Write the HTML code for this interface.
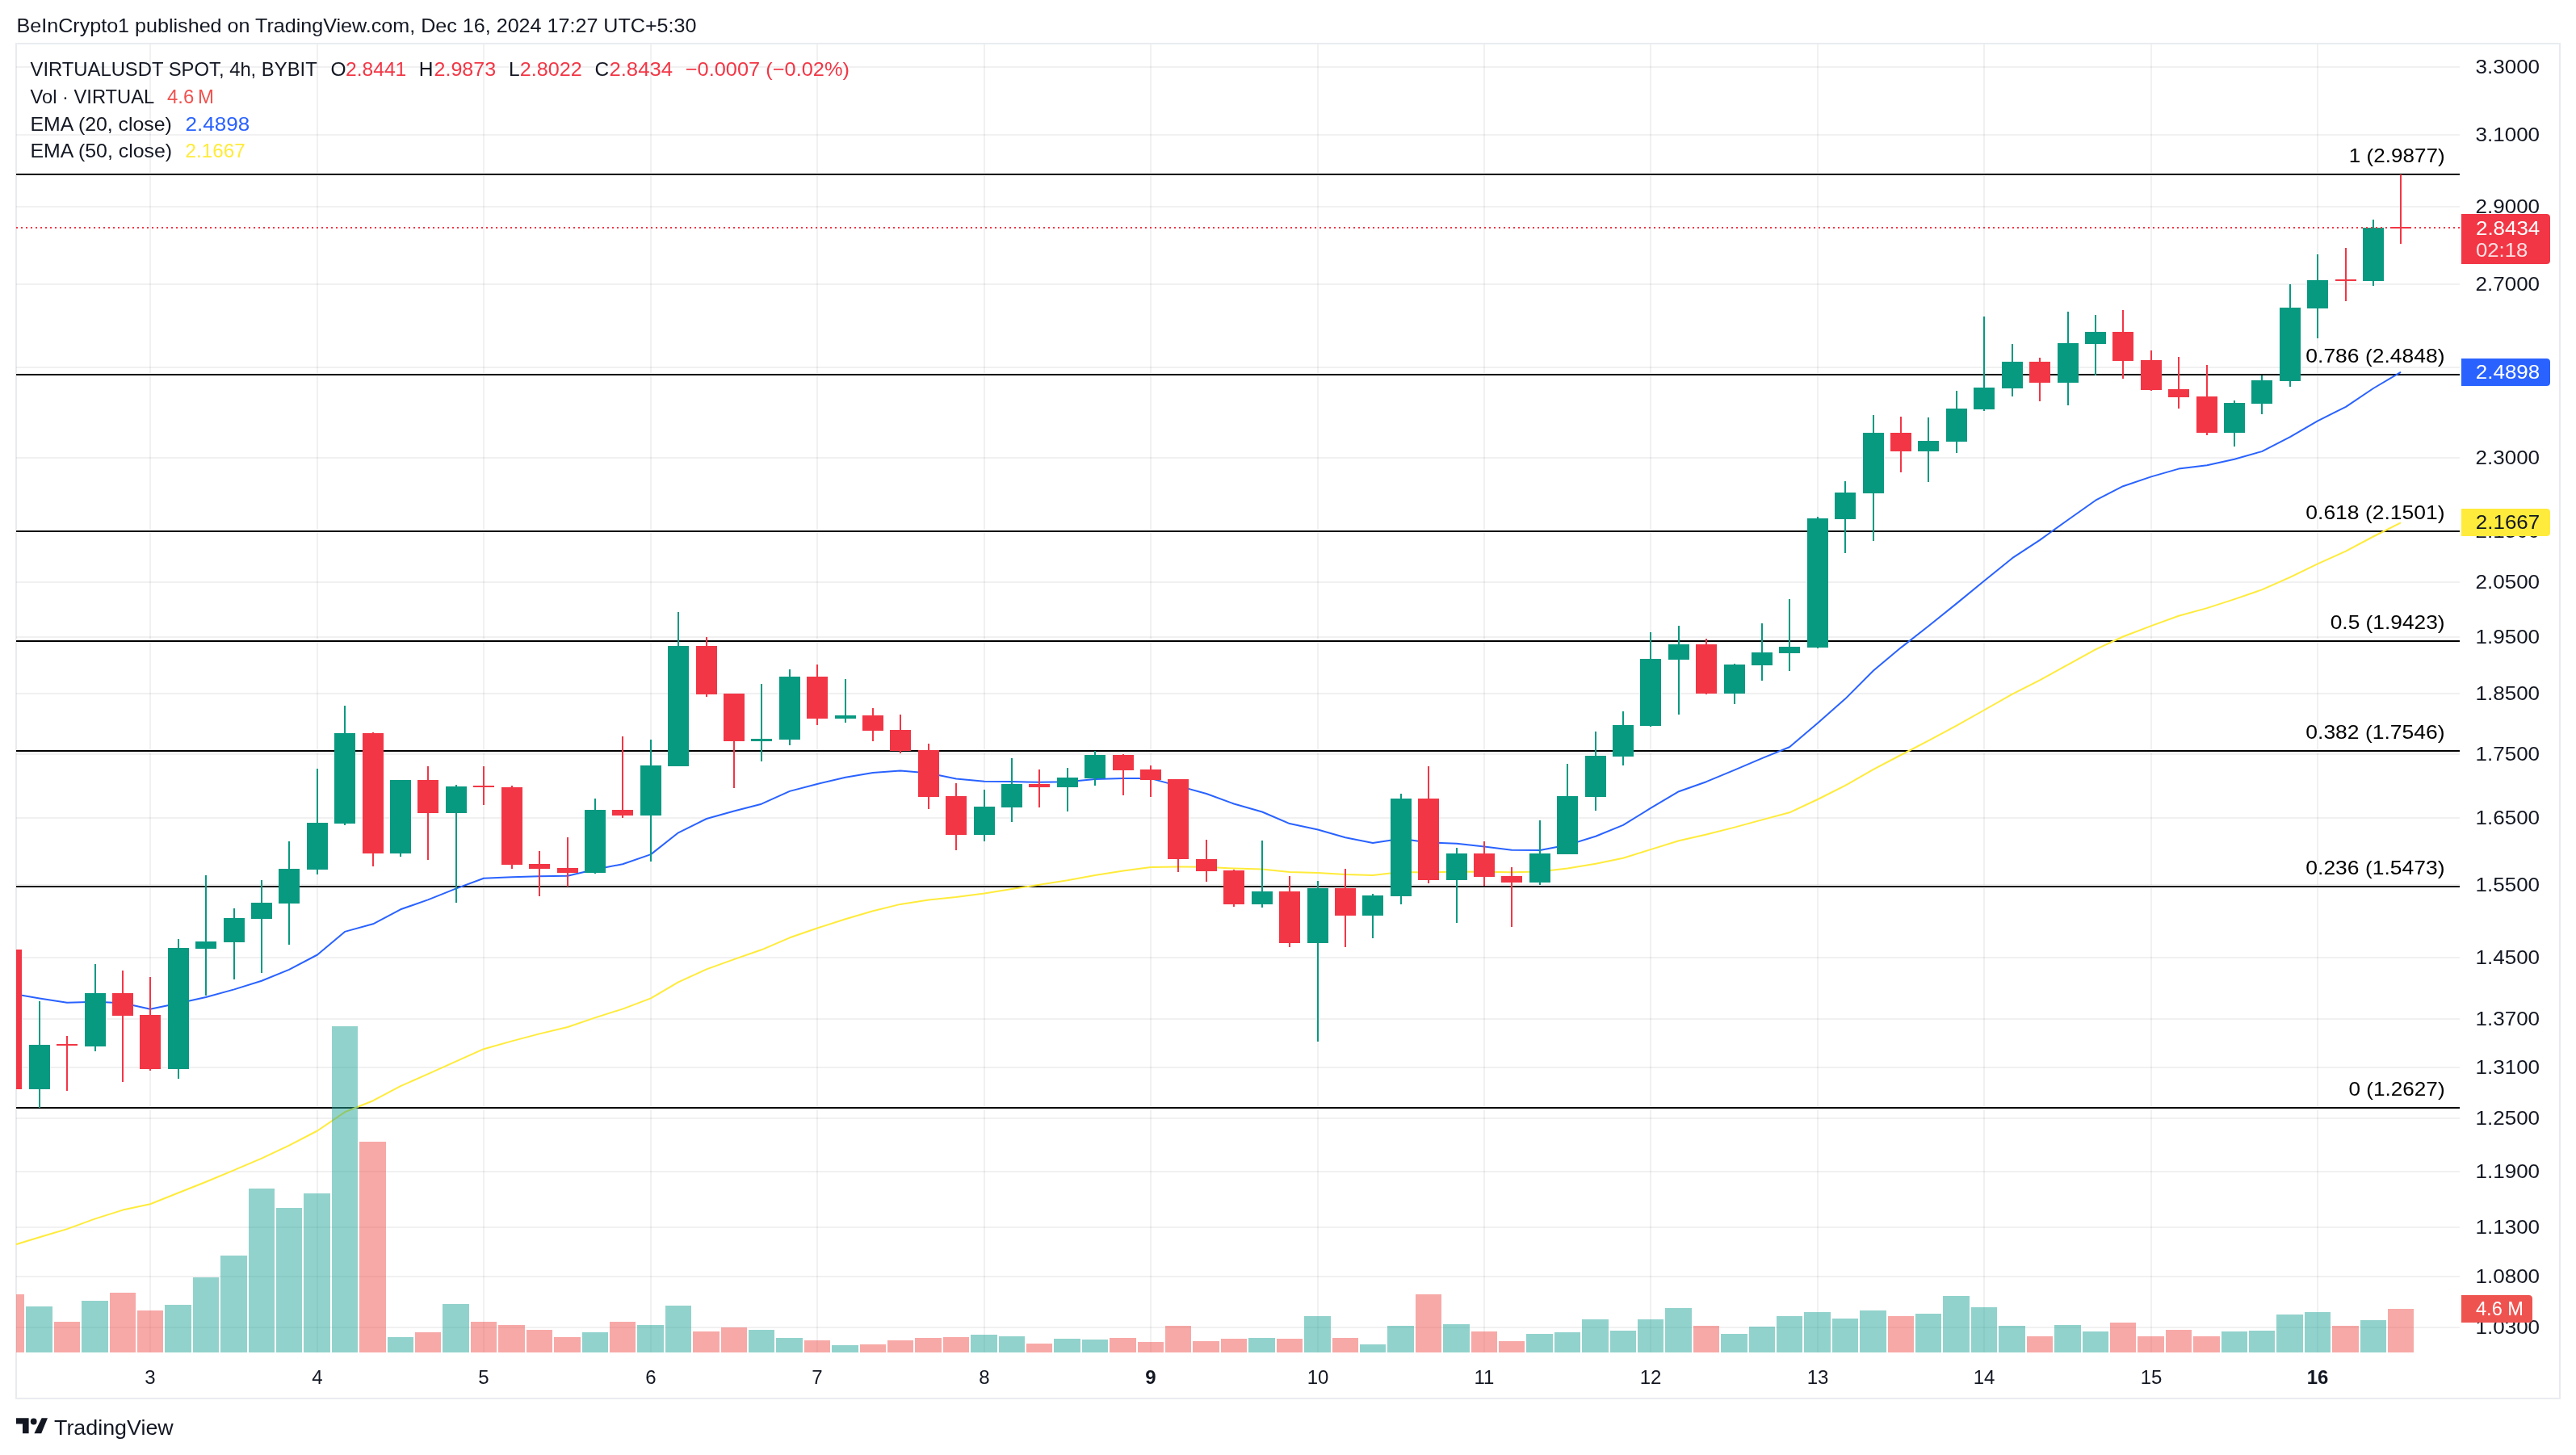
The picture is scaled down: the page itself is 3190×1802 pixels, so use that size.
<!DOCTYPE html>
<html><head><meta charset="utf-8"><title>VIRTUALUSDT chart</title>
<style>html,body{margin:0;padding:0;background:#fff;}body{width:3190px;height:1802px;overflow:hidden;}text{font-family:"Liberation Sans",sans-serif;}</style>
</head><body>
<svg width="3190" height="1802" viewBox="0 0 3190 1802" style="display:block;will-change:transform">
<rect width="3190" height="1802" fill="#ffffff"/>
<defs><clipPath id="pane"><rect x="20" y="55" width="3026" height="1620"/></clipPath></defs>
<rect x="20" y="54" width="3150" height="1678" fill="none" stroke="#e9ebf0" stroke-width="2" shape-rendering="crispEdges"/>
<g fill="#2a2e39" fill-opacity="0.065" shape-rendering="crispEdges">
<rect x="20" y="82" width="3026" height="2"/>
<rect x="20" y="166" width="3026" height="2"/>
<rect x="20" y="255" width="3026" height="2"/>
<rect x="20" y="351" width="3026" height="2"/>
<rect x="20" y="454" width="3026" height="2"/>
<rect x="20" y="566" width="3026" height="2"/>
<rect x="20" y="657" width="3026" height="2"/>
<rect x="20" y="720" width="3026" height="2"/>
<rect x="20" y="788" width="3026" height="2"/>
<rect x="20" y="858" width="3026" height="2"/>
<rect x="20" y="933" width="3026" height="2"/>
<rect x="20" y="1012" width="3026" height="2"/>
<rect x="20" y="1095" width="3026" height="2"/>
<rect x="20" y="1185" width="3026" height="2"/>
<rect x="20" y="1261" width="3026" height="2"/>
<rect x="20" y="1321" width="3026" height="2"/>
<rect x="20" y="1384" width="3026" height="2"/>
<rect x="20" y="1450" width="3026" height="2"/>
<rect x="20" y="1519" width="3026" height="2"/>
<rect x="20" y="1580" width="3026" height="2"/>
<rect x="20" y="1643" width="3026" height="2"/>
<rect x="185" y="55" width="2" height="1620"/>
<rect x="392" y="55" width="2" height="1620"/>
<rect x="598" y="55" width="2" height="1620"/>
<rect x="805" y="55" width="2" height="1620"/>
<rect x="1011" y="55" width="2" height="1620"/>
<rect x="1218" y="55" width="2" height="1620"/>
<rect x="1424" y="55" width="2" height="1620"/>
<rect x="1631" y="55" width="2" height="1620"/>
<rect x="1837" y="55" width="2" height="1620"/>
<rect x="2043" y="55" width="2" height="1620"/>
<rect x="2250" y="55" width="2" height="1620"/>
<rect x="2456" y="55" width="2" height="1620"/>
<rect x="2663" y="55" width="2" height="1620"/>
<rect x="2869" y="55" width="2" height="1620"/>
</g>
<g shape-rendering="crispEdges">
<rect x="20" y="214" width="3026" height="4" fill="#fff"/>
<rect x="20" y="215" width="3026" height="2" fill="#000"/>
<rect x="20" y="462" width="3026" height="4" fill="#fff"/>
<rect x="20" y="463" width="3026" height="2" fill="#000"/>
<rect x="20" y="656" width="3026" height="4" fill="#fff"/>
<rect x="20" y="657" width="3026" height="2" fill="#000"/>
<rect x="20" y="792" width="3026" height="4" fill="#fff"/>
<rect x="20" y="793" width="3026" height="2" fill="#000"/>
<rect x="20" y="928" width="3026" height="4" fill="#fff"/>
<rect x="20" y="929" width="3026" height="2" fill="#000"/>
<rect x="20" y="1096" width="3026" height="4" fill="#fff"/>
<rect x="20" y="1097" width="3026" height="2" fill="#000"/>
<rect x="20" y="1370" width="3026" height="4" fill="#fff"/>
<rect x="20" y="1371" width="3026" height="2" fill="#000"/>
</g>
<g clip-path="url(#pane)">
<polyline points="14,1543.0 49,1532.3 83,1522.1 118,1509.4 152,1498.6 186,1491.3 221,1477.3 255,1463.7 290,1449.2 324,1434.6 358,1418.6 393,1400.5 427,1377.3 462,1363.2 496,1345.2 530,1330.2 565,1314.3 599,1299.2 634,1289.4 668,1280.4 703,1272.0 737,1260.4 771,1249.6 806,1236.4 840,1216.3 875,1200.4 909,1188.1 943,1176.3 978,1161.3 1012,1149.5 1047,1138.2 1081,1128.2 1115,1119.9 1150,1114.4 1184,1111.1 1219,1106.5 1253,1101.0 1287,1095.8 1322,1090.3 1356,1083.9 1391,1078.5 1425,1073.9 1459,1073.6 1494,1073.8 1528,1075.5 1563,1076.6 1597,1080.1 1632,1080.9 1666,1082.9 1700,1083.9 1735,1080.1 1769,1080.5 1804,1079.6 1838,1079.8 1872,1080.3 1907,1079.4 1941,1075.6 1976,1069.8 2010,1062.7 2044,1052.1 2079,1041.2 2113,1033.5 2148,1024.6 2182,1015.4 2216,1006.3 2251,990.0 2285,972.9 2320,952.8 2354,935.0 2388,917.4 2423,898.6 2457,879.5 2492,859.7 2526,842.3 2561,823.2 2595,804.4 2629,788.5 2664,775.1 2698,762.7 2733,753.1 2767,742.1 2801,730.4 2836,714.9 2870,698.4 2905,682.7 2939,664.5 2973,647.3" fill="none" stroke="#ffeb3b" stroke-width="2" stroke-linejoin="round"/>
<polyline points="14,1230.5 49,1236.4 83,1241.8 118,1240.7 152,1242.3 186,1249.8 221,1242.4 255,1235.0 290,1225.4 324,1214.8 358,1200.9 393,1182.5 427,1153.9 462,1144.3 496,1126.3 530,1114.4 565,1100.4 599,1087.8 634,1086.2 668,1085.2 703,1084.8 737,1076.8 771,1070.2 806,1058.1 840,1031.3 875,1014.0 909,1004.5 943,995.7 978,979.9 1012,971.0 1047,962.7 1081,957.1 1115,954.5 1150,957.5 1184,964.6 1219,967.8 1253,968.1 1287,968.8 1322,968.2 1356,965.0 1391,964.0 1425,964.1 1459,973.4 1494,983.0 1528,995.5 1563,1005.5 1597,1020.1 1632,1027.5 1666,1037.3 1700,1044.0 1735,1038.7 1769,1043.4 1804,1044.7 1838,1048.6 1872,1052.7 1907,1053.1 1941,1046.6 1976,1035.7 2010,1021.9 2044,1000.9 2079,980.2 2113,968.2 2148,953.7 2182,939.1 2216,925.3 2251,895.6 2285,865.6 2320,830.5 2354,802.1 2388,775.5 2423,747.4 2457,719.5 2492,691.2 2526,668.9 2561,643.7 2595,619.7 2629,602.2 2664,590.4 2698,580.6 2733,576.3 2767,568.7 2801,559.1 2836,541.1 2870,521.3 2905,503.8 2939,481.0 2973,460.8" fill="none" stroke="#2962ff" stroke-width="2" stroke-linejoin="round"/>
</g>
<g clip-path="url(#pane)" shape-rendering="crispEdges">
<rect x="-2" y="1603" width="32" height="72" fill="rgba(239,83,80,0.5)"/>
<rect x="32" y="1618" width="33" height="57" fill="rgba(38,166,154,0.5)"/>
<rect x="67" y="1637" width="32" height="38" fill="rgba(239,83,80,0.5)"/>
<rect x="101" y="1611" width="33" height="64" fill="rgba(38,166,154,0.5)"/>
<rect x="136" y="1601" width="32" height="74" fill="rgba(239,83,80,0.5)"/>
<rect x="170" y="1623" width="32" height="52" fill="rgba(239,83,80,0.5)"/>
<rect x="204" y="1616" width="33" height="59" fill="rgba(38,166,154,0.5)"/>
<rect x="239" y="1582" width="32" height="93" fill="rgba(38,166,154,0.5)"/>
<rect x="273" y="1555" width="33" height="120" fill="rgba(38,166,154,0.5)"/>
<rect x="308" y="1472" width="32" height="203" fill="rgba(38,166,154,0.5)"/>
<rect x="342" y="1496" width="32" height="179" fill="rgba(38,166,154,0.5)"/>
<rect x="376" y="1478" width="33" height="197" fill="rgba(38,166,154,0.5)"/>
<rect x="411" y="1271" width="32" height="404" fill="rgba(38,166,154,0.5)"/>
<rect x="445" y="1414" width="33" height="261" fill="rgba(239,83,80,0.5)"/>
<rect x="480" y="1656" width="32" height="19" fill="rgba(38,166,154,0.5)"/>
<rect x="514" y="1650" width="32" height="25" fill="rgba(239,83,80,0.5)"/>
<rect x="548" y="1615" width="33" height="60" fill="rgba(38,166,154,0.5)"/>
<rect x="583" y="1637" width="32" height="38" fill="rgba(239,83,80,0.5)"/>
<rect x="617" y="1641" width="33" height="34" fill="rgba(239,83,80,0.5)"/>
<rect x="652" y="1647" width="32" height="28" fill="rgba(239,83,80,0.5)"/>
<rect x="686" y="1656" width="33" height="19" fill="rgba(239,83,80,0.5)"/>
<rect x="721" y="1650" width="32" height="25" fill="rgba(38,166,154,0.5)"/>
<rect x="755" y="1637" width="32" height="38" fill="rgba(239,83,80,0.5)"/>
<rect x="789" y="1641" width="33" height="34" fill="rgba(38,166,154,0.5)"/>
<rect x="824" y="1617" width="32" height="58" fill="rgba(38,166,154,0.5)"/>
<rect x="858" y="1649" width="33" height="26" fill="rgba(239,83,80,0.5)"/>
<rect x="893" y="1644" width="32" height="31" fill="rgba(239,83,80,0.5)"/>
<rect x="927" y="1647" width="32" height="28" fill="rgba(38,166,154,0.5)"/>
<rect x="961" y="1657" width="33" height="18" fill="rgba(38,166,154,0.5)"/>
<rect x="996" y="1660" width="32" height="15" fill="rgba(239,83,80,0.5)"/>
<rect x="1030" y="1666" width="33" height="9" fill="rgba(38,166,154,0.5)"/>
<rect x="1065" y="1665" width="32" height="10" fill="rgba(239,83,80,0.5)"/>
<rect x="1099" y="1660" width="32" height="15" fill="rgba(239,83,80,0.5)"/>
<rect x="1133" y="1657" width="33" height="18" fill="rgba(239,83,80,0.5)"/>
<rect x="1168" y="1656" width="32" height="19" fill="rgba(239,83,80,0.5)"/>
<rect x="1202" y="1653" width="33" height="22" fill="rgba(38,166,154,0.5)"/>
<rect x="1237" y="1655" width="32" height="20" fill="rgba(38,166,154,0.5)"/>
<rect x="1271" y="1664" width="32" height="11" fill="rgba(239,83,80,0.5)"/>
<rect x="1305" y="1658" width="33" height="17" fill="rgba(38,166,154,0.5)"/>
<rect x="1340" y="1659" width="32" height="16" fill="rgba(38,166,154,0.5)"/>
<rect x="1374" y="1657" width="33" height="18" fill="rgba(239,83,80,0.5)"/>
<rect x="1409" y="1662" width="32" height="13" fill="rgba(239,83,80,0.5)"/>
<rect x="1443" y="1642" width="32" height="33" fill="rgba(239,83,80,0.5)"/>
<rect x="1477" y="1661" width="33" height="14" fill="rgba(239,83,80,0.5)"/>
<rect x="1512" y="1658" width="32" height="17" fill="rgba(239,83,80,0.5)"/>
<rect x="1546" y="1657" width="33" height="18" fill="rgba(38,166,154,0.5)"/>
<rect x="1581" y="1658" width="32" height="17" fill="rgba(239,83,80,0.5)"/>
<rect x="1615" y="1630" width="33" height="45" fill="rgba(38,166,154,0.5)"/>
<rect x="1650" y="1657" width="32" height="18" fill="rgba(239,83,80,0.5)"/>
<rect x="1684" y="1665" width="32" height="10" fill="rgba(38,166,154,0.5)"/>
<rect x="1718" y="1642" width="33" height="33" fill="rgba(38,166,154,0.5)"/>
<rect x="1753" y="1603" width="32" height="72" fill="rgba(239,83,80,0.5)"/>
<rect x="1787" y="1640" width="33" height="35" fill="rgba(38,166,154,0.5)"/>
<rect x="1822" y="1649" width="32" height="26" fill="rgba(239,83,80,0.5)"/>
<rect x="1856" y="1661" width="32" height="14" fill="rgba(239,83,80,0.5)"/>
<rect x="1890" y="1652" width="33" height="23" fill="rgba(38,166,154,0.5)"/>
<rect x="1925" y="1650" width="32" height="25" fill="rgba(38,166,154,0.5)"/>
<rect x="1959" y="1634" width="33" height="41" fill="rgba(38,166,154,0.5)"/>
<rect x="1994" y="1648" width="32" height="27" fill="rgba(38,166,154,0.5)"/>
<rect x="2028" y="1634" width="32" height="41" fill="rgba(38,166,154,0.5)"/>
<rect x="2062" y="1620" width="33" height="55" fill="rgba(38,166,154,0.5)"/>
<rect x="2097" y="1642" width="32" height="33" fill="rgba(239,83,80,0.5)"/>
<rect x="2131" y="1652" width="33" height="23" fill="rgba(38,166,154,0.5)"/>
<rect x="2166" y="1643" width="32" height="32" fill="rgba(38,166,154,0.5)"/>
<rect x="2200" y="1630" width="32" height="45" fill="rgba(38,166,154,0.5)"/>
<rect x="2234" y="1625" width="33" height="50" fill="rgba(38,166,154,0.5)"/>
<rect x="2269" y="1633" width="32" height="42" fill="rgba(38,166,154,0.5)"/>
<rect x="2303" y="1623" width="33" height="52" fill="rgba(38,166,154,0.5)"/>
<rect x="2338" y="1630" width="32" height="45" fill="rgba(239,83,80,0.5)"/>
<rect x="2372" y="1627" width="32" height="48" fill="rgba(38,166,154,0.5)"/>
<rect x="2406" y="1605" width="33" height="70" fill="rgba(38,166,154,0.5)"/>
<rect x="2441" y="1619" width="32" height="56" fill="rgba(38,166,154,0.5)"/>
<rect x="2475" y="1642" width="33" height="33" fill="rgba(38,166,154,0.5)"/>
<rect x="2510" y="1655" width="32" height="20" fill="rgba(239,83,80,0.5)"/>
<rect x="2544" y="1641" width="33" height="34" fill="rgba(38,166,154,0.5)"/>
<rect x="2579" y="1649" width="32" height="26" fill="rgba(38,166,154,0.5)"/>
<rect x="2613" y="1638" width="32" height="37" fill="rgba(239,83,80,0.5)"/>
<rect x="2647" y="1655" width="33" height="20" fill="rgba(239,83,80,0.5)"/>
<rect x="2682" y="1647" width="32" height="28" fill="rgba(239,83,80,0.5)"/>
<rect x="2716" y="1655" width="33" height="20" fill="rgba(239,83,80,0.5)"/>
<rect x="2751" y="1649" width="32" height="26" fill="rgba(38,166,154,0.5)"/>
<rect x="2785" y="1648" width="32" height="27" fill="rgba(38,166,154,0.5)"/>
<rect x="2819" y="1628" width="33" height="47" fill="rgba(38,166,154,0.5)"/>
<rect x="2854" y="1625" width="32" height="50" fill="rgba(38,166,154,0.5)"/>
<rect x="2888" y="1642" width="33" height="33" fill="rgba(239,83,80,0.5)"/>
<rect x="2923" y="1635" width="32" height="40" fill="rgba(38,166,154,0.5)"/>
<rect x="2957" y="1621" width="32" height="54" fill="rgba(239,83,80,0.5)"/>
</g>
<g clip-path="url(#pane)" shape-rendering="crispEdges">
<rect x="1" y="1176" width="26" height="173" fill="#f23645"/>
<rect x="48" y="1240" width="2" height="132" fill="#089981"/>
<rect x="36" y="1294" width="26" height="55" fill="#089981"/>
<rect x="82" y="1283" width="2" height="68" fill="#f23645"/>
<rect x="70" y="1293" width="26" height="2" fill="#f23645"/>
<rect x="117" y="1194" width="2" height="108" fill="#089981"/>
<rect x="105" y="1230" width="26" height="66" fill="#089981"/>
<rect x="151" y="1202" width="2" height="138" fill="#f23645"/>
<rect x="139" y="1230" width="26" height="28" fill="#f23645"/>
<rect x="185" y="1210" width="2" height="116" fill="#f23645"/>
<rect x="173" y="1257" width="26" height="67" fill="#f23645"/>
<rect x="220" y="1163" width="2" height="173" fill="#089981"/>
<rect x="208" y="1174" width="26" height="150" fill="#089981"/>
<rect x="254" y="1084" width="2" height="149" fill="#089981"/>
<rect x="242" y="1166" width="26" height="9" fill="#089981"/>
<rect x="289" y="1125" width="2" height="88" fill="#089981"/>
<rect x="277" y="1137" width="26" height="30" fill="#089981"/>
<rect x="323" y="1090" width="2" height="115" fill="#089981"/>
<rect x="311" y="1118" width="26" height="20" fill="#089981"/>
<rect x="357" y="1042" width="2" height="128" fill="#089981"/>
<rect x="345" y="1076" width="26" height="43" fill="#089981"/>
<rect x="392" y="952" width="2" height="131" fill="#089981"/>
<rect x="380" y="1019" width="26" height="58" fill="#089981"/>
<rect x="426" y="874" width="2" height="148" fill="#089981"/>
<rect x="414" y="908" width="26" height="112" fill="#089981"/>
<rect x="461" y="907" width="2" height="166" fill="#f23645"/>
<rect x="449" y="908" width="26" height="149" fill="#f23645"/>
<rect x="495" y="966" width="2" height="95" fill="#089981"/>
<rect x="483" y="966" width="26" height="91" fill="#089981"/>
<rect x="529" y="949" width="2" height="116" fill="#f23645"/>
<rect x="517" y="966" width="26" height="41" fill="#f23645"/>
<rect x="564" y="972" width="2" height="146" fill="#089981"/>
<rect x="552" y="974" width="26" height="33" fill="#089981"/>
<rect x="598" y="949" width="2" height="48" fill="#f23645"/>
<rect x="586" y="973" width="26" height="2" fill="#f23645"/>
<rect x="633" y="973" width="2" height="103" fill="#f23645"/>
<rect x="621" y="975" width="26" height="96" fill="#f23645"/>
<rect x="667" y="1054" width="2" height="56" fill="#f23645"/>
<rect x="655" y="1070" width="26" height="6" fill="#f23645"/>
<rect x="702" y="1037" width="2" height="61" fill="#f23645"/>
<rect x="690" y="1075" width="26" height="6" fill="#f23645"/>
<rect x="736" y="989" width="2" height="93" fill="#089981"/>
<rect x="724" y="1003" width="26" height="78" fill="#089981"/>
<rect x="770" y="912" width="2" height="101" fill="#f23645"/>
<rect x="758" y="1003" width="26" height="7" fill="#f23645"/>
<rect x="805" y="916" width="2" height="151" fill="#089981"/>
<rect x="793" y="948" width="26" height="62" fill="#089981"/>
<rect x="839" y="758" width="2" height="191" fill="#089981"/>
<rect x="827" y="800" width="26" height="149" fill="#089981"/>
<rect x="874" y="789" width="2" height="74" fill="#f23645"/>
<rect x="862" y="800" width="26" height="60" fill="#f23645"/>
<rect x="908" y="859" width="2" height="117" fill="#f23645"/>
<rect x="896" y="859" width="26" height="59" fill="#f23645"/>
<rect x="942" y="847" width="2" height="96" fill="#089981"/>
<rect x="930" y="915" width="26" height="3" fill="#089981"/>
<rect x="977" y="829" width="2" height="94" fill="#089981"/>
<rect x="965" y="838" width="26" height="78" fill="#089981"/>
<rect x="1011" y="823" width="2" height="75" fill="#f23645"/>
<rect x="999" y="838" width="26" height="52" fill="#f23645"/>
<rect x="1046" y="841" width="2" height="54" fill="#089981"/>
<rect x="1034" y="886" width="26" height="4" fill="#089981"/>
<rect x="1080" y="877" width="2" height="41" fill="#f23645"/>
<rect x="1068" y="886" width="26" height="19" fill="#f23645"/>
<rect x="1114" y="885" width="2" height="48" fill="#f23645"/>
<rect x="1102" y="904" width="26" height="26" fill="#f23645"/>
<rect x="1149" y="921" width="2" height="81" fill="#f23645"/>
<rect x="1137" y="929" width="26" height="58" fill="#f23645"/>
<rect x="1183" y="970" width="2" height="83" fill="#f23645"/>
<rect x="1171" y="986" width="26" height="48" fill="#f23645"/>
<rect x="1218" y="978" width="2" height="64" fill="#089981"/>
<rect x="1206" y="999" width="26" height="35" fill="#089981"/>
<rect x="1252" y="939" width="2" height="79" fill="#089981"/>
<rect x="1240" y="971" width="26" height="29" fill="#089981"/>
<rect x="1286" y="953" width="2" height="47" fill="#f23645"/>
<rect x="1274" y="971" width="26" height="4" fill="#f23645"/>
<rect x="1321" y="951" width="2" height="54" fill="#089981"/>
<rect x="1309" y="963" width="26" height="12" fill="#089981"/>
<rect x="1355" y="930" width="2" height="43" fill="#089981"/>
<rect x="1343" y="935" width="26" height="29" fill="#089981"/>
<rect x="1390" y="934" width="2" height="51" fill="#f23645"/>
<rect x="1378" y="935" width="26" height="19" fill="#f23645"/>
<rect x="1424" y="948" width="2" height="39" fill="#f23645"/>
<rect x="1412" y="953" width="26" height="13" fill="#f23645"/>
<rect x="1458" y="965" width="2" height="115" fill="#f23645"/>
<rect x="1446" y="965" width="26" height="99" fill="#f23645"/>
<rect x="1493" y="1040" width="2" height="52" fill="#f23645"/>
<rect x="1481" y="1064" width="26" height="15" fill="#f23645"/>
<rect x="1527" y="1077" width="2" height="46" fill="#f23645"/>
<rect x="1515" y="1078" width="26" height="42" fill="#f23645"/>
<rect x="1562" y="1041" width="2" height="83" fill="#089981"/>
<rect x="1550" y="1104" width="26" height="16" fill="#089981"/>
<rect x="1596" y="1085" width="2" height="88" fill="#f23645"/>
<rect x="1584" y="1104" width="26" height="64" fill="#f23645"/>
<rect x="1631" y="1091" width="2" height="199" fill="#089981"/>
<rect x="1619" y="1100" width="26" height="68" fill="#089981"/>
<rect x="1665" y="1076" width="2" height="97" fill="#f23645"/>
<rect x="1653" y="1100" width="26" height="34" fill="#f23645"/>
<rect x="1699" y="1107" width="2" height="55" fill="#089981"/>
<rect x="1687" y="1109" width="26" height="25" fill="#089981"/>
<rect x="1734" y="983" width="2" height="137" fill="#089981"/>
<rect x="1722" y="989" width="26" height="121" fill="#089981"/>
<rect x="1768" y="949" width="2" height="145" fill="#f23645"/>
<rect x="1756" y="989" width="26" height="101" fill="#f23645"/>
<rect x="1803" y="1050" width="2" height="93" fill="#089981"/>
<rect x="1791" y="1057" width="26" height="33" fill="#089981"/>
<rect x="1837" y="1042" width="2" height="55" fill="#f23645"/>
<rect x="1825" y="1057" width="26" height="29" fill="#f23645"/>
<rect x="1871" y="1074" width="2" height="74" fill="#f23645"/>
<rect x="1859" y="1085" width="26" height="8" fill="#f23645"/>
<rect x="1906" y="1016" width="2" height="80" fill="#089981"/>
<rect x="1894" y="1057" width="26" height="36" fill="#089981"/>
<rect x="1940" y="946" width="2" height="112" fill="#089981"/>
<rect x="1928" y="986" width="26" height="72" fill="#089981"/>
<rect x="1975" y="906" width="2" height="98" fill="#089981"/>
<rect x="1963" y="936" width="26" height="51" fill="#089981"/>
<rect x="2009" y="881" width="2" height="67" fill="#089981"/>
<rect x="1997" y="898" width="26" height="39" fill="#089981"/>
<rect x="2043" y="783" width="2" height="117" fill="#089981"/>
<rect x="2031" y="816" width="26" height="83" fill="#089981"/>
<rect x="2078" y="775" width="2" height="110" fill="#089981"/>
<rect x="2066" y="798" width="26" height="19" fill="#089981"/>
<rect x="2112" y="791" width="2" height="69" fill="#f23645"/>
<rect x="2100" y="798" width="26" height="61" fill="#f23645"/>
<rect x="2147" y="822" width="2" height="50" fill="#089981"/>
<rect x="2135" y="823" width="26" height="36" fill="#089981"/>
<rect x="2181" y="772" width="2" height="71" fill="#089981"/>
<rect x="2169" y="808" width="26" height="16" fill="#089981"/>
<rect x="2215" y="742" width="2" height="89" fill="#089981"/>
<rect x="2203" y="801" width="26" height="8" fill="#089981"/>
<rect x="2250" y="640" width="2" height="163" fill="#089981"/>
<rect x="2238" y="642" width="26" height="160" fill="#089981"/>
<rect x="2284" y="596" width="2" height="89" fill="#089981"/>
<rect x="2272" y="610" width="26" height="33" fill="#089981"/>
<rect x="2319" y="514" width="2" height="156" fill="#089981"/>
<rect x="2307" y="536" width="26" height="75" fill="#089981"/>
<rect x="2353" y="516" width="2" height="69" fill="#f23645"/>
<rect x="2341" y="536" width="26" height="23" fill="#f23645"/>
<rect x="2387" y="517" width="2" height="80" fill="#089981"/>
<rect x="2375" y="546" width="26" height="13" fill="#089981"/>
<rect x="2422" y="484" width="2" height="77" fill="#089981"/>
<rect x="2410" y="506" width="26" height="41" fill="#089981"/>
<rect x="2456" y="392" width="2" height="117" fill="#089981"/>
<rect x="2444" y="480" width="26" height="27" fill="#089981"/>
<rect x="2491" y="426" width="2" height="65" fill="#089981"/>
<rect x="2479" y="448" width="26" height="33" fill="#089981"/>
<rect x="2525" y="443" width="2" height="54" fill="#f23645"/>
<rect x="2513" y="448" width="26" height="26" fill="#f23645"/>
<rect x="2560" y="386" width="2" height="116" fill="#089981"/>
<rect x="2548" y="425" width="26" height="49" fill="#089981"/>
<rect x="2594" y="390" width="2" height="75" fill="#089981"/>
<rect x="2582" y="411" width="26" height="15" fill="#089981"/>
<rect x="2628" y="384" width="2" height="85" fill="#f23645"/>
<rect x="2616" y="411" width="26" height="36" fill="#f23645"/>
<rect x="2663" y="434" width="2" height="50" fill="#f23645"/>
<rect x="2651" y="446" width="26" height="37" fill="#f23645"/>
<rect x="2697" y="442" width="2" height="64" fill="#f23645"/>
<rect x="2685" y="482" width="26" height="10" fill="#f23645"/>
<rect x="2732" y="452" width="2" height="87" fill="#f23645"/>
<rect x="2720" y="491" width="26" height="45" fill="#f23645"/>
<rect x="2766" y="496" width="2" height="57" fill="#089981"/>
<rect x="2754" y="499" width="26" height="37" fill="#089981"/>
<rect x="2800" y="465" width="2" height="48" fill="#089981"/>
<rect x="2788" y="471" width="26" height="29" fill="#089981"/>
<rect x="2835" y="352" width="2" height="127" fill="#089981"/>
<rect x="2823" y="381" width="26" height="91" fill="#089981"/>
<rect x="2869" y="315" width="2" height="104" fill="#089981"/>
<rect x="2857" y="347" width="26" height="35" fill="#089981"/>
<rect x="2904" y="307" width="2" height="66" fill="#f23645"/>
<rect x="2892" y="346" width="26" height="2" fill="#f23645"/>
<rect x="2938" y="272" width="2" height="82" fill="#089981"/>
<rect x="2926" y="282" width="26" height="66" fill="#089981"/>
<rect x="2972" y="216" width="2" height="86" fill="#f23645"/>
<rect x="2960" y="281" width="26" height="2" fill="#f23645"/>
</g>
<line x1="20" y1="282" x2="3046" y2="282" stroke="#f23645" stroke-width="2" stroke-dasharray="2 4" shape-rendering="crispEdges"/>
<text x="2908.8" y="201.0" font-family="Liberation Sans, sans-serif" font-size="24.5" fill="#000" textLength="118.8" lengthAdjust="spacingAndGlyphs">1 (2.9877)</text>
<text x="2855.3" y="449.0" font-family="Liberation Sans, sans-serif" font-size="24.5" fill="#000" textLength="172.3" lengthAdjust="spacingAndGlyphs">0.786 (2.4848)</text>
<text x="2855.3" y="643.0" font-family="Liberation Sans, sans-serif" font-size="24.5" fill="#000" textLength="172.3" lengthAdjust="spacingAndGlyphs">0.618 (2.1501)</text>
<text x="2885.7" y="779.0" font-family="Liberation Sans, sans-serif" font-size="24.5" fill="#000" textLength="141.9" lengthAdjust="spacingAndGlyphs">0.5 (1.9423)</text>
<text x="2855.3" y="915.0" font-family="Liberation Sans, sans-serif" font-size="24.5" fill="#000" textLength="172.3" lengthAdjust="spacingAndGlyphs">0.382 (1.7546)</text>
<text x="2855.3" y="1083.0" font-family="Liberation Sans, sans-serif" font-size="24.5" fill="#000" textLength="172.3" lengthAdjust="spacingAndGlyphs">0.236 (1.5473)</text>
<text x="2908.4" y="1357.0" font-family="Liberation Sans, sans-serif" font-size="24.5" fill="#000" textLength="119.2" lengthAdjust="spacingAndGlyphs">0 (1.2627)</text>
<text x="3065.5" y="91.3" font-family="Liberation Sans, sans-serif" font-size="24.5" fill="#131722" textLength="79.6" lengthAdjust="spacingAndGlyphs">3.3000</text>
<text x="3065.5" y="175.3" font-family="Liberation Sans, sans-serif" font-size="24.5" fill="#131722" textLength="79.6" lengthAdjust="spacingAndGlyphs">3.1000</text>
<text x="3065.5" y="264.3" font-family="Liberation Sans, sans-serif" font-size="24.5" fill="#131722" textLength="79.6" lengthAdjust="spacingAndGlyphs">2.9000</text>
<text x="3065.5" y="360.3" font-family="Liberation Sans, sans-serif" font-size="24.5" fill="#131722" textLength="79.6" lengthAdjust="spacingAndGlyphs">2.7000</text>
<text x="3065.5" y="575.3" font-family="Liberation Sans, sans-serif" font-size="24.5" fill="#131722" textLength="79.6" lengthAdjust="spacingAndGlyphs">2.3000</text>
<text x="3065.5" y="666.3" font-family="Liberation Sans, sans-serif" font-size="24.5" fill="#131722" textLength="79.6" lengthAdjust="spacingAndGlyphs">2.1500</text>
<text x="3065.5" y="729.3" font-family="Liberation Sans, sans-serif" font-size="24.5" fill="#131722" textLength="79.6" lengthAdjust="spacingAndGlyphs">2.0500</text>
<text x="3065.5" y="797.3" font-family="Liberation Sans, sans-serif" font-size="24.5" fill="#131722" textLength="79.6" lengthAdjust="spacingAndGlyphs">1.9500</text>
<text x="3065.5" y="867.3" font-family="Liberation Sans, sans-serif" font-size="24.5" fill="#131722" textLength="79.6" lengthAdjust="spacingAndGlyphs">1.8500</text>
<text x="3065.5" y="942.3" font-family="Liberation Sans, sans-serif" font-size="24.5" fill="#131722" textLength="79.6" lengthAdjust="spacingAndGlyphs">1.7500</text>
<text x="3065.5" y="1021.3" font-family="Liberation Sans, sans-serif" font-size="24.5" fill="#131722" textLength="79.6" lengthAdjust="spacingAndGlyphs">1.6500</text>
<text x="3065.5" y="1104.3" font-family="Liberation Sans, sans-serif" font-size="24.5" fill="#131722" textLength="79.6" lengthAdjust="spacingAndGlyphs">1.5500</text>
<text x="3065.5" y="1194.3" font-family="Liberation Sans, sans-serif" font-size="24.5" fill="#131722" textLength="79.6" lengthAdjust="spacingAndGlyphs">1.4500</text>
<text x="3065.5" y="1270.3" font-family="Liberation Sans, sans-serif" font-size="24.5" fill="#131722" textLength="79.6" lengthAdjust="spacingAndGlyphs">1.3700</text>
<text x="3065.5" y="1330.3" font-family="Liberation Sans, sans-serif" font-size="24.5" fill="#131722" textLength="79.6" lengthAdjust="spacingAndGlyphs">1.3100</text>
<text x="3065.5" y="1393.3" font-family="Liberation Sans, sans-serif" font-size="24.5" fill="#131722" textLength="79.6" lengthAdjust="spacingAndGlyphs">1.2500</text>
<text x="3065.5" y="1459.3" font-family="Liberation Sans, sans-serif" font-size="24.5" fill="#131722" textLength="79.6" lengthAdjust="spacingAndGlyphs">1.1900</text>
<text x="3065.5" y="1528.3" font-family="Liberation Sans, sans-serif" font-size="24.5" fill="#131722" textLength="79.6" lengthAdjust="spacingAndGlyphs">1.1300</text>
<text x="3065.5" y="1589.3" font-family="Liberation Sans, sans-serif" font-size="24.5" fill="#131722" textLength="79.6" lengthAdjust="spacingAndGlyphs">1.0800</text>
<text x="3065.5" y="1652.3" font-family="Liberation Sans, sans-serif" font-size="24.5" fill="#131722" textLength="79.6" lengthAdjust="spacingAndGlyphs">1.0300</text>
<path d="M3048,265 H3153.5 Q3158,265 3158,269.5 V322.5 Q3158,327 3153.5,327 H3048 Z" fill="#f23645"/>
<text x="3066" y="291.2" font-family="Liberation Sans, sans-serif" font-size="24.5" fill="#fff" textLength="79.2" lengthAdjust="spacingAndGlyphs">2.8434</text>
<text x="3066" y="318.4" font-family="Liberation Sans, sans-serif" font-size="24.5" fill="#fff" fill-opacity="0.85" textLength="64.4" lengthAdjust="spacingAndGlyphs">02:18</text>
<path d="M3048,444 H3153.5 Q3158,444 3158,448.5 V473.5 Q3158,478 3153.5,478 H3048 Z" fill="#2962ff"/>
<text x="3065.8" y="469.1" font-family="Liberation Sans, sans-serif" font-size="24.5" fill="#fff" textLength="79.4" lengthAdjust="spacingAndGlyphs">2.4898</text>
<path d="M3048,630 H3153.5 Q3158,630 3158,634.5 V659.5 Q3158,664 3153.5,664 H3048 Z" fill="#ffeb3b"/>
<text x="3065.8" y="655.3" font-family="Liberation Sans, sans-serif" font-size="24.5" fill="#131722" textLength="79.4" lengthAdjust="spacingAndGlyphs">2.1667</text>
<path d="M3048,1604 H3131.5 Q3136,1604 3136,1608.5 V1633.5 Q3136,1638 3131.5,1638 H3048 Z" fill="#ef5350"/>
<text x="3066" y="1629.3" font-family="Liberation Sans, sans-serif" font-size="24.5" fill="#fff" textLength="59" lengthAdjust="spacingAndGlyphs">4.6 M</text>
<text x="186" y="1713.8" font-family="Liberation Sans, sans-serif" font-size="24" fill="#131722" text-anchor="middle">3</text>
<text x="393" y="1713.8" font-family="Liberation Sans, sans-serif" font-size="24" fill="#131722" text-anchor="middle">4</text>
<text x="599" y="1713.8" font-family="Liberation Sans, sans-serif" font-size="24" fill="#131722" text-anchor="middle">5</text>
<text x="806" y="1713.8" font-family="Liberation Sans, sans-serif" font-size="24" fill="#131722" text-anchor="middle">6</text>
<text x="1012" y="1713.8" font-family="Liberation Sans, sans-serif" font-size="24" fill="#131722" text-anchor="middle">7</text>
<text x="1219" y="1713.8" font-family="Liberation Sans, sans-serif" font-size="24" fill="#131722" text-anchor="middle">8</text>
<text x="1425" y="1713.8" font-family="Liberation Sans, sans-serif" font-size="24" fill="#131722" text-anchor="middle" font-weight="bold">9</text>
<text x="1632" y="1713.8" font-family="Liberation Sans, sans-serif" font-size="24" fill="#131722" text-anchor="middle">10</text>
<text x="1838" y="1713.8" font-family="Liberation Sans, sans-serif" font-size="24" fill="#131722" text-anchor="middle">11</text>
<text x="2044" y="1713.8" font-family="Liberation Sans, sans-serif" font-size="24" fill="#131722" text-anchor="middle">12</text>
<text x="2251" y="1713.8" font-family="Liberation Sans, sans-serif" font-size="24" fill="#131722" text-anchor="middle">13</text>
<text x="2457" y="1713.8" font-family="Liberation Sans, sans-serif" font-size="24" fill="#131722" text-anchor="middle">14</text>
<text x="2664" y="1713.8" font-family="Liberation Sans, sans-serif" font-size="24" fill="#131722" text-anchor="middle">15</text>
<text x="2870" y="1713.8" font-family="Liberation Sans, sans-serif" font-size="24" fill="#131722" text-anchor="middle" font-weight="bold">16</text>
<text x="20.5" y="39.8" font-family="Liberation Sans, sans-serif" font-size="24.5" fill="#131722" textLength="842" lengthAdjust="spacingAndGlyphs">BeInCrypto1 published on TradingView.com, Dec 16, 2024 17:27 UTC+5:30</text>
<text x="37.5" y="94.3" font-family="Liberation Sans, sans-serif" font-size="24.5" fill="#131722" textLength="355.2" lengthAdjust="spacingAndGlyphs">VIRTUALUSDT SPOT, 4h, BYBIT</text>
<text x="409.4" y="94.3" font-family="Liberation Sans, sans-serif" font-size="24.5" fill="#131722">O</text>
<text x="428.1" y="94.3" font-family="Liberation Sans, sans-serif" font-size="24.5" fill="#f23645" textLength="75.2" lengthAdjust="spacingAndGlyphs">2.8441</text>
<text x="518.8" y="94.3" font-family="Liberation Sans, sans-serif" font-size="24.5" fill="#131722">H</text>
<text x="537.5" y="94.3" font-family="Liberation Sans, sans-serif" font-size="24.5" fill="#f23645" textLength="76.7" lengthAdjust="spacingAndGlyphs">2.9873</text>
<text x="630" y="94.3" font-family="Liberation Sans, sans-serif" font-size="24.5" fill="#131722">L</text>
<text x="643.7" y="94.3" font-family="Liberation Sans, sans-serif" font-size="24.5" fill="#f23645" textLength="77.1" lengthAdjust="spacingAndGlyphs">2.8022</text>
<text x="736.4" y="94.3" font-family="Liberation Sans, sans-serif" font-size="24.5" fill="#131722">C</text>
<text x="754.4" y="94.3" font-family="Liberation Sans, sans-serif" font-size="24.5" fill="#f23645" textLength="78.7" lengthAdjust="spacingAndGlyphs">2.8434</text>
<text x="848.7" y="94.3" font-family="Liberation Sans, sans-serif" font-size="24.5" fill="#f23645" textLength="203.3" lengthAdjust="spacingAndGlyphs">−0.0007 (−0.02%)</text>
<text x="37.5" y="127.8" font-family="Liberation Sans, sans-serif" font-size="24.5" fill="#131722" textLength="153.7" lengthAdjust="spacingAndGlyphs">Vol · VIRTUAL</text>
<text x="207" y="127.8" font-family="Liberation Sans, sans-serif" font-size="24.5" fill="#ef5350" textLength="58" lengthAdjust="spacingAndGlyphs">4.6 M</text>
<text x="37.5" y="161.6" font-family="Liberation Sans, sans-serif" font-size="24.5" fill="#131722" textLength="175.4" lengthAdjust="spacingAndGlyphs">EMA (20, close)</text>
<text x="229.6" y="161.6" font-family="Liberation Sans, sans-serif" font-size="24.5" fill="#2962ff" textLength="79.7" lengthAdjust="spacingAndGlyphs">2.4898</text>
<text x="37.5" y="195.2" font-family="Liberation Sans, sans-serif" font-size="24.5" fill="#131722" textLength="175.6" lengthAdjust="spacingAndGlyphs">EMA (50, close)</text>
<text x="229.6" y="195.2" font-family="Liberation Sans, sans-serif" font-size="24.5" fill="#ffeb3b" textLength="74.1" lengthAdjust="spacingAndGlyphs">2.1667</text>
<g fill="#131722"><path d="M20,1756.2 H35.6 V1775.3 H28 V1763.5 H20 Z"/><circle cx="41.7" cy="1760.5" r="3.9"/><path d="M51.6,1756.2 H59 L51.2,1775.3 H42.4 Z"/></g>
<text x="67" y="1777" font-family="Liberation Sans, sans-serif" font-size="26" fill="#131722" textLength="147.7" lengthAdjust="spacingAndGlyphs">TradingView</text>
</svg>
</body></html>
